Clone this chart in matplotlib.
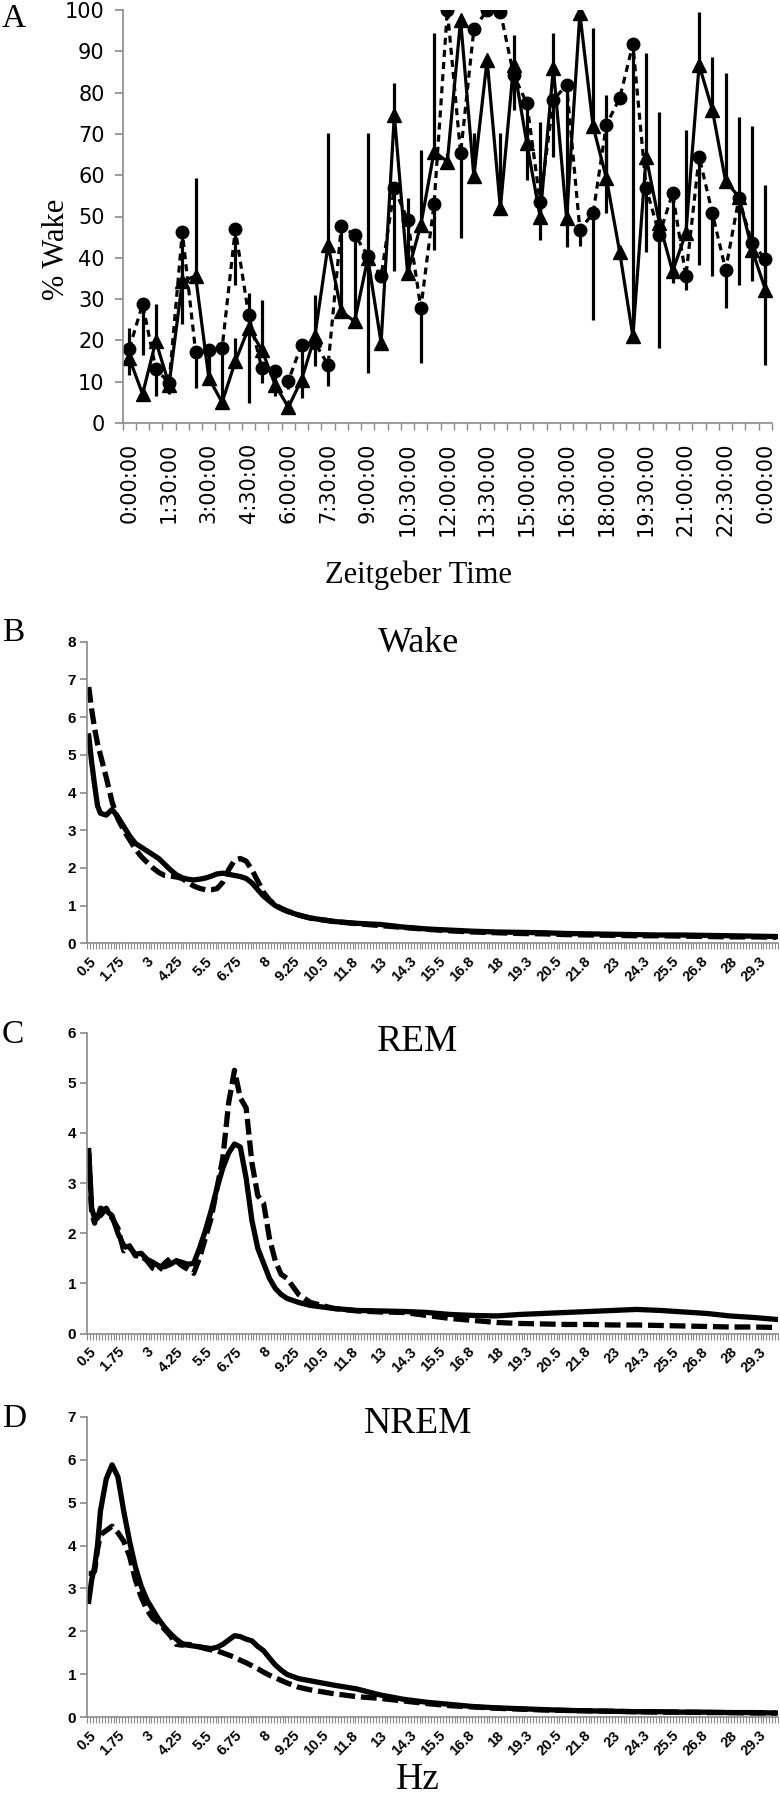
import matplotlib
matplotlib.use("Agg")
import matplotlib.pyplot as plt
import numpy as np

W, H = 780, 1800

# ---- panel A: % wake per half hour (ZT) ----
zt_labels = ["0:00:00", "1:30:00", "3:00:00", "4:30:00", "6:00:00", "7:30:00",
             "9:00:00", "10:30:00", "12:00:00", "13:30:00", "15:00:00", "16:30:00",
             "18:00:00", "19:30:00", "21:00:00", "22:30:00", "0:00:00"]

tri_wake = [15.7, 7.0, 19.8, 9.3, 34.3, 35.6, 10.9, 5.0, 14.9, 23.0,
            17.7, 9.3, 3.8, 10.5, 21.0, 43.1, 27.0, 24.6, 39.9, 19.4,
            74.6, 36.3, 48.0, 65.7, 63.3, 97.6, 59.7, 87.9, 52.0, 86.7,
            67.7, 50.0, 85.9, 49.6, 99.2, 71.8, 59.3, 41.5, 21.0, 64.5,
            48.4, 36.7, 46.0, 86.7, 75.8, 58.5, 54.8, 41.9, 32.3]
tri_err = [7.3, 0.5, 9.0, 1.0, 2.0, 23.7, 3.0, 0.5, 5.7, 8.5,
           12.1, 1.0, 1.0, 0.5, 10.0, 27.1, 1.0, 1.0, 30.3, 1.0,
           7.7, 18.1, 18.1, 28.7, 2.0, 0.0, 10.5, 0.0, 18.2, 7.3,
           0.0, 23.0, 8.5, 0.0, 0.0, 23.8, 20.1, 0.0, 0.0, 25.0,
           27.0, 0.0, 25.0, 12.9, 12.9, 26.2, 19.4, 29.9, 25.4]

circ_wake = [18.0, 28.8, 13.1, 9.7, 46.2, 17.3, 17.7, 18.1, 46.9, 26.2,
             13.3, 12.7, 10.2, 19.0, 19.4, 14.1, 47.6, 45.6, 40.5, 35.5,
             56.9, 49.2, 27.8, 53.1, 100.0, 65.3, 95.3, 100.0, 99.6, 84.3,
             77.4, 53.6, 78.2, 81.9, 46.8, 50.8, 72.2, 78.6, 91.7, 56.9,
             45.6, 55.6, 35.5, 64.5, 50.8, 37.1, 54.4, 43.5, 39.7]
circ_err = [6.3, 12.3, 6.6, 2.7, 22.2, 8.8, 5.0, 12.0, 13.4, 21.4,
            3.6, 6.2, 2.0, 13.0, 5.7, 5.2, 20.6, 20.0, 28.4, 1.0,
            20.2, 1.0, 13.3, 11.2, 2.0, 20.5, 1.0, 0.0, 0.0, 8.5,
            18.5, 9.2, 13.7, 39.2, 4.0, 25.8, 21.4, 0.0, 70.7, 15.4,
            27.5, 21.7, 3.2, 26.2, 15.3, 9.3, 20.9, 9.2, 25.6]

# ---- panels B-D: power spectra ----
hz = [0.5, 0.625, 0.75, 0.875, 1.0, 1.25, 1.5, 1.75, 2.0, 2.25,
      2.5, 2.75, 3.0, 3.25, 3.5, 3.75, 4.0, 4.25, 4.5, 4.75,
      5.0, 5.25, 5.5, 5.75, 6.0, 6.25, 6.5, 6.75, 7.0, 7.25,
      7.5, 7.75, 8.0, 8.25, 8.5, 8.75, 9.0, 9.5, 10, 11,
      12, 13, 14, 15, 16, 17, 18, 19, 20, 21,
      22, 23, 24, 25, 26, 27, 28, 29, 30]

wake_solid = [5.5, 4.8, 4.2, 3.65, 3.45, 3.4, 3.55, 3.35, 3.1, 2.85,
              2.65, 2.55, 2.45, 2.35, 2.25, 2.1, 1.95, 1.82, 1.74, 1.7,
              1.68, 1.7, 1.73, 1.78, 1.84, 1.86, 1.83, 1.8, 1.77, 1.72,
              1.6, 1.42, 1.25, 1.12, 1.0, 0.92, 0.85, 0.75, 0.67, 0.58,
              0.53, 0.5, 0.43, 0.38, 0.35, 0.32, 0.3, 0.29, 0.28, 0.26,
              0.25, 0.24, 0.23, 0.22, 0.22, 0.21, 0.2, 0.19, 0.18]
wake_dash = [6.8, 6.2, 5.7, 5.3, 5.0, 4.4, 3.75, 3.3, 3.0, 2.75,
             2.5, 2.3, 2.15, 2.0, 1.88, 1.8, 1.78, 1.76, 1.72, 1.62,
             1.52, 1.46, 1.42, 1.42, 1.45, 1.62, 1.95, 2.2, 2.25, 2.18,
             1.95, 1.65, 1.35, 1.15, 1.02, 0.93, 0.86, 0.75, 0.67, 0.58,
             0.52, 0.47, 0.42, 0.37, 0.33, 0.3, 0.28, 0.26, 0.25, 0.23,
             0.22, 0.21, 0.2, 0.2, 0.19, 0.18, 0.17, 0.17, 0.16]

rem_solid = [3.65, 2.5, 2.3, 2.3, 2.5, 2.45, 2.35, 2.0, 1.75, 1.72,
             1.58, 1.6, 1.48, 1.42, 1.35, 1.33, 1.38, 1.45, 1.42, 1.38,
             1.4, 1.7, 2.05, 2.45, 2.9, 3.3, 3.6, 3.78, 3.72, 3.1,
             2.25, 1.7, 1.4, 1.1, 0.9, 0.78, 0.7, 0.62, 0.56, 0.5,
             0.46, 0.45, 0.44, 0.42, 0.38, 0.36, 0.35, 0.38, 0.4, 0.42,
             0.44, 0.46, 0.48, 0.46, 0.43, 0.4, 0.35, 0.32, 0.28]
rem_dash = [3.6, 2.4, 2.2, 2.45, 2.35, 2.5, 2.3, 2.1, 1.65, 1.75,
            1.55, 1.55, 1.45, 1.3, 1.25, 1.4, 1.5, 1.45, 1.35, 1.28,
            1.2, 1.5, 1.9, 2.3, 2.9, 3.5, 4.6, 5.25, 4.7, 4.5,
            3.4, 2.75, 2.6, 1.9, 1.45, 1.18, 1.1, 0.78, 0.62, 0.5,
            0.45, 0.43, 0.42, 0.36, 0.3, 0.26, 0.22, 0.2, 0.19, 0.18,
            0.18, 0.17, 0.17, 0.16, 0.15, 0.14, 0.13, 0.13, 0.12]

nrem_solid = [2.7, 3.2, 3.5, 4.0, 4.8, 5.55, 5.88, 5.6, 4.8, 4.1,
              3.5, 3.05, 2.73, 2.5, 2.28, 2.1, 1.95, 1.82, 1.72, 1.68,
              1.66, 1.64, 1.62, 1.6, 1.63, 1.7, 1.8, 1.9, 1.88, 1.82,
              1.78, 1.65, 1.55, 1.38, 1.22, 1.1, 1.0, 0.9, 0.85, 0.75,
              0.66, 0.52, 0.42, 0.35, 0.3, 0.25, 0.22, 0.2, 0.18, 0.16,
              0.15, 0.14, 0.13, 0.13, 0.12, 0.12, 0.11, 0.11, 0.1]
nrem_dash = [3.35, 3.35, 3.4, 3.9, 4.25, 4.35, 4.45, 4.3, 4.1, 3.75,
             3.2, 2.8, 2.5, 2.3, 2.2, 2.05, 1.9, 1.7, 1.68, 1.7,
             1.68, 1.64, 1.6, 1.57, 1.55, 1.5, 1.45, 1.4, 1.33, 1.27,
             1.2, 1.13, 1.05, 0.98, 0.92, 0.86, 0.8, 0.7, 0.64, 0.55,
             0.48, 0.44, 0.38, 0.32, 0.27, 0.24, 0.21, 0.19, 0.17, 0.16,
             0.15, 0.14, 0.13, 0.12, 0.12, 0.11, 0.11, 0.1, 0.1]

hz_labels = ["0.5", "1.75", "3", "4.25", "5.5", "6.75", "8", "9.25", "10.5", "11.8",
             "13", "14.3", "15.5", "16.8", "18", "19.3", "20.5", "21.8", "23", "24.3",
             "25.5", "26.8", "28", "29.3"]

GREY = "#8a8a8a"
SERIF = "Liberation Serif"


def rect(l, t, r, b):
    return [l / W, 1 - b / H, (r - l) / W, (b - t) / H]


def style_axes(ax):
    for s in ["top", "right"]:
        ax.spines[s].set_visible(False)
    for s in ["left", "bottom"]:
        ax.spines[s].set_color(GREY)
        ax.spines[s].set_linewidth(1.2)


fig = plt.figure(figsize=(W / 100, H / 100), dpi=100)

# ---------------- A ----------------
axA = fig.add_axes(rect(122.7, 10, 772, 423))
style_axes(axA)
x = np.arange(len(tri_wake))
zeros = [0] * len(x)
axA.errorbar(x, circ_wake, yerr=[circ_err, zeros], color="black", lw=2.3,
             ls=(0, (2.2, 1.6)), marker="o", ms=9, elinewidth=2.3, capsize=0)
axA.errorbar(x, tri_wake, yerr=[zeros, tri_err], color="black", lw=2.3,
             ls="-", marker="^", ms=10.5, elinewidth=2.3, capsize=0)
axA.set_xlim(-0.5, len(x) - 0.5)
axA.set_ylim(0, 100)
axA.set_yticks(np.arange(0, 101, 10))
axA.set_xticks(np.arange(0, len(x), 3))
axA.set_xticklabels(zt_labels, rotation=90, fontsize=15, family="DejaVu Sans")
axA.set_xticks(np.arange(-0.5, len(x), 1), minor=True)
axA.tick_params(axis="x", which="major", length=0, pad=14)
axA.tick_params(axis="x", which="minor", length=5, width=1, color=GREY)
axA.tick_params(axis="y", length=6, width=1.2, color=GREY, pad=7, labelsize=15)
for t in axA.get_yticklabels():
    t.set_family("DejaVu Sans")
fig.text(57 / W, 1 - 249 / H, "% Wake", rotation=90, ha="center", va="center",
         family=SERIF, fontsize=22)
fig.text(418 / W, 1 - 583 / H, "Zeitgeber Time", ha="center", va="baseline",
         family=SERIF, fontsize=22)
fig.text(2 / W, 1 - 27 / H, "A", ha="left", va="baseline", family=SERIF, fontsize=24)

# ---------------- B, C, D ----------------
panels = [
    ("B", "Wake", wake_solid, wake_dash, 8, (641.7, 943.3), 641, 652, 26),
    ("C", "REM", rem_solid, rem_dash, 6, (1032.7, 1333.5), 1043, 1051, 27),
    ("D", "NREM", nrem_solid, nrem_dash, 7, (1416.7, 1717.3), 1427, 1433, 27),
]
for letter, title, solid, dash, ymax, (top, bot), let_y, tit_y, tsize in panels:
    ax = fig.add_axes(rect(87.3, top, 778, bot))
    style_axes(ax)
    ax.plot(hz, solid, color="black", lw=3.8, solid_joinstyle="round")
    ax.plot(hz, dash, color="black", lw=3.8, ls=(0, (3, 1.1)))
    ax.set_xlim(0.4375, 30.0625)
    ax.set_ylim(0, ymax)
    ax.set_yticks(np.arange(0, ymax + 1, 1))
    ax.set_xticks(0.5 + 1.25 * np.arange(len(hz_labels)))
    ax.set_xticklabels(hz_labels, rotation=45, ha="right", va="top",
                       rotation_mode="anchor", fontsize=10.5,
                       family="Liberation Sans", weight="bold")
    ax.set_xticks(np.arange(0.4375, 30.07, 0.125), minor=True)
    ax.tick_params(axis="x", which="major", length=0, pad=8)
    ax.tick_params(axis="x", which="minor", length=4, width=0.8, color=GREY)
    ax.tick_params(axis="y", length=5, width=1.2, color=GREY, pad=3, labelsize=11)
    for t in ax.get_yticklabels():
        t.set_family("Liberation Sans")
        t.set_weight("bold")
    fig.text(2 / W, 1 - let_y / H, letter, ha="left", va="baseline",
             family=SERIF, fontsize=24)
    fig.text(418 / W, 1 - tit_y / H, title, ha="center", va="baseline",
             family=SERIF, fontsize=tsize)

fig.text(418 / W, 1 - 1789 / H, "Hz", ha="center", va="baseline",
         family=SERIF, fontsize=27)

fig.savefig("out.png", dpi=100)
